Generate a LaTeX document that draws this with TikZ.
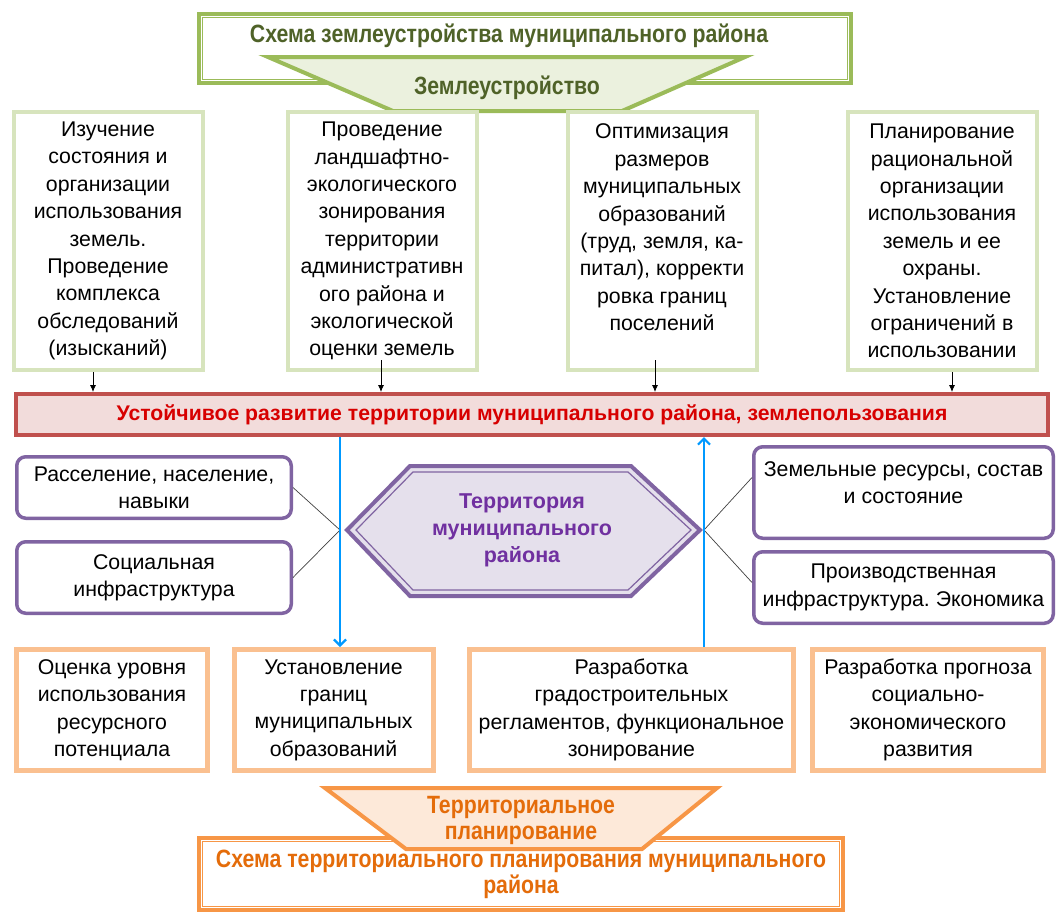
\documentclass[tikz,border=0pt]{standalone}
\usepackage{fontspec}
\setmainfont{Liberation Sans}
\newfontfamily\narrowfont[FakeStretch=0.85]{Liberation Sans}
\usepackage{tikz}
\usetikzlibrary{arrows.meta,calc}
\definecolor{olivedark}{RGB}{79,98,40}
\definecolor{olivegreen}{RGB}{155,187,89}
\definecolor{olivelight}{RGB}{215,228,189}
\definecolor{olivefill}{RGB}{235,241,222}
\definecolor{redline}{RGB}{192,80,77}
\definecolor{redfill}{RGB}{242,220,219}
\definecolor{redtext}{RGB}{215,0,0}
\definecolor{purpline}{RGB}{128,100,162}
\definecolor{purpfill}{RGB}{229,224,236}
\definecolor{purptext}{RGB}{112,48,160}
\definecolor{skyblue}{RGB}{0,153,255}
\definecolor{orangelight}{RGB}{250,192,144}
\definecolor{orangeline}{RGB}{247,150,70}
\definecolor{orangefill}{RGB}{253,233,217}
\definecolor{orangetext}{RGB}{228,108,10}
\newcommand{\bodyfont}{\fontsize{21.3}{27.4}\selectfont}
\newcommand{\headfont}{\narrowfont\bfseries\fontsize{25}{26}\selectfont}

\begin{document}
\frenchspacing
\begin{tikzpicture}[x=1pt, y=-1pt,
  headbox/.style={draw, line width=4pt, fill=white},
  workbox/.style={draw=olivelight, line width=4pt, minimum width=189pt, minimum height=258pt, align=center, font=\bodyfont},
  sidebox/.style={draw=purpline, line width=3.5pt, rounded corners=9pt, fill=white, align=center, font=\bodyfont},
  planbox/.style={draw=orangelight, line width=5pt, minimum height=121pt, align=center, font=\bodyfont},
  link/.style={draw=black!75, line width=0.7pt},
  darr/.style={-{Latex[length=7pt,width=6pt]}, line width=0.8pt},
  bluearr/.style={-{Straight Barb[length=6pt,width=12pt]}, skyblue, line width=2.2pt}
]
\useasboundingbox (0,0) rectangle (1057,914);

% land management scheme on top
\node[headbox, draw=olivegreen, minimum width=652pt, minimum height=69pt] (zembox) at (525,48.5) {};
\draw[olivegreen, line width=1.5pt] ([shift={(5.5pt,-5.5pt)}]zembox.north west) rectangle ([shift={(-5.5pt,5.5pt)}]zembox.south east);
\node[font=\headfont, text=olivedark] (zemtitle) at (509,36) {Схема землеустройства муниципального района};
\draw[olivegreen, fill=olivefill, line width=4pt, line join=miter] (268,57) -- (745,57) -- (622,111) -- (393,111) -- cycle;
\node[font=\headfont, text=olivedark] (zemlabel) at (507,88) {Землеустройство};

% four tasks of land management
\node[workbox] (tb1) at (108,241) {Изучение\\состояния и\\организации\\использования\\земель.\\Проведение\\комплекса\\обследований\\(изысканий)};
\node[workbox] (tb2) at (382,241) {Проведение\\ландшафтно-\\экологического\\зонирования\\территории\\административн\\ого района и\\экологической\\оценки земель};
\node[workbox] (tb3) at (662,241) {Оптимизация\\размеров\\муниципальных\\образований\\(труд, земля, ка-\\питал), корректи\\ровка границ\\поселений\\\mbox{}};
\node[workbox] (tb4) at (942,241) {Планирование\\рациональной\\организации\\использования\\земель и ее\\охраны.\\Установление\\ограничений в\\использовании};

% sustainable development bar
\node[draw=redline, fill=redfill, line width=4pt, minimum width=1032pt, minimum height=41pt, font=\bfseries\fontsize{21.2}{24}\selectfont, text=redtext] (devel) at (532,414.5) {Устойчивое развитие территории муниципального района, землепользования};
\draw[darr] ([xshift=-15pt]tb1.south) -- ([xshift=-15pt]tb1.south |- devel.north);
\draw[darr] ([xshift=-1pt,yshift=12pt]tb2.south) -- ([xshift=-1pt]tb2.south |- devel.north);
\draw[darr] ([xshift=-7pt,yshift=12pt]tb3.south) -- ([xshift=-7pt]tb3.south |- devel.north);
\draw[darr] ([xshift=10pt]tb4.south) -- ([xshift=10pt]tb4.south |- devel.north);

% territory of the district
\coordinate (hexc) at (522,530);
\draw[purpline, fill=purpfill, line width=4pt, line join=miter] ($(hexc)+(-175,0)$) -- ($(hexc)+(-112,-64)$) -- ($(hexc)+(109,-64)$) -- ($(hexc)+(178,0)$) -- ($(hexc)+(109,66)$) -- ($(hexc)+(-112,66)$) -- cycle;
\draw[purpline, line width=1.2pt] ($(hexc)+(-166,0)$) -- ($(hexc)+(-109,-58)$) -- ($(hexc)+(106,-58)$) -- ($(hexc)+(169,0)$) -- ($(hexc)+(106,60)$) -- ($(hexc)+(-109,60)$) -- cycle;
\node[align=center, font=\bfseries\fontsize{21.5}{27}\selectfont, text=purptext] (terr) at (hexc) {Территория\\муниципального\\района};

\node[sidebox, minimum width=274.5pt, minimum height=61.5pt] (sl1) at (154,487.5) {Расселение, население,\\навыки};
\node[sidebox, minimum width=274.5pt, minimum height=71.5pt] (sl2) at (154,577.5) {Социальная\\инфраструктура};
\node[sidebox, minimum width=299.5pt, minimum height=91.5pt] (sr1) at (903.5,492.5) {Земельные ресурсы, состав\\и состояние\\[-8pt]\mbox{}};
\node[sidebox, minimum width=299.5pt, minimum height=71.5pt] (sr2) at (903.5,587.5) {Производственная\\инфраструктура. Экономика};
\coordinate (lmeet) at (340,530);
\coordinate (rmeet) at (704,530);
\draw[link] (sl1.east) -- (lmeet) -- (sl2.east);
\draw[link] ([yshift=15pt]sr1.west) -- (rmeet) -- ([yshift=5pt]sr2.west);

% territorial planning tasks
\node[planbox, minimum width=191pt] (pb1) at (112,710) {Оценка уровня\\использования\\ресурсного\\потенциала};
\node[planbox, minimum width=199pt] (pb2) at (333.5,710) {Установление\\границ\\муниципальных\\образований};
\node[planbox, minimum width=324pt] (pb3) at (631.5,710) {Разработка\\градостроительных\\регламентов, функциональное\\зонирование};
\node[planbox, minimum width=231pt] (pb4) at (928,710) {Разработка прогноза\\социально-\\экономического\\развития};
\draw[bluearr] (devel.south -| lmeet) -- (pb2.north -| lmeet);
\draw[bluearr] (pb3.north -| rmeet) -- (devel.south -| rmeet);

% territorial planning scheme at the bottom
\node[headbox, draw=orangeline, minimum width=644pt, minimum height=72pt, align=center, font=\headfont, text=orangetext] (planbox) at (521,874) {Схема территориального планирования муниципального\\района};
\draw[orangeline, line width=1.5pt] ([shift={(5.5pt,-5.5pt)}]planbox.north west) rectangle ([shift={(-5.5pt,5.5pt)}]planbox.south east);
\draw[orangeline, fill=orangefill, line width=4pt, line join=miter] (325,788) -- (717,788) -- (642,849) -- (406,849) -- cycle;
\node[align=center, font=\headfont, text=orangetext] (planlabel) at (521,820) {Территориальное\\планирование};
\end{tikzpicture}
\end{document}
